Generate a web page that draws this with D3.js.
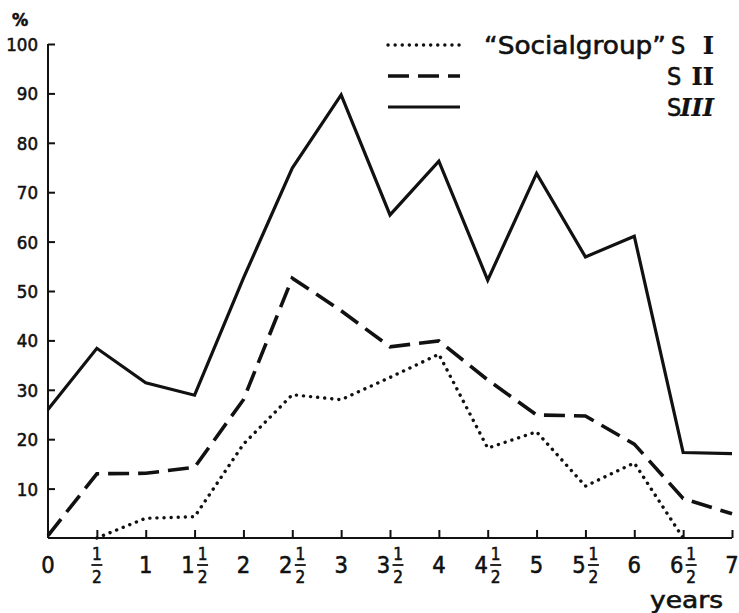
<!DOCTYPE html>
<html>
<head>
<meta charset="utf-8">
<script src="https://cdn.jsdelivr.net/npm/d3@7"></script>
<style>
  html, body { margin: 0; padding: 0; background: #fff; }
  svg { display: block; }
  text { fill: #111; stroke: #111; stroke-width: 0.55px; font-family: "DejaVu Sans Condensed", "DejaVu Sans", sans-serif; }
</style>
</head>
<body>
<script>
// Age in years at each observation
const years = [0, 0.5, 1, 1.5, 2, 2.5, 3, 3.5, 4, 4.5, 5, 5.5, 6, 6.5, 7];

// Percentages per social group (null = no observation)
const sI   = [null, 0, 4, 4.3, 19, 29, 28, 32.5, 37.2, 18.2, 21.5, 10.5, 15.2, 0, null];
const sII  = [0.5, 13, 13.1, 14.3, 28, 52.6, 46, 38.7, 39.9, 32, 24.9, 24.7, 19, 8, 4.9];
const sIII = [26, 38.4, 31.4, 28.9, 52.6, 74.9, 89.7, 65.4, 76.3, 52.2, 73.8, 56.9, 61.1, 17.3, 17.1];

// Axis ticks
const xTicks = years;
const yTicks = [10, 20, 30, 40, 50, 60, 70, 80, 90, 100];

// Legend entries
const groupNames = ["I", "II", "III"];
const groupStyles = [
  { dash: "0.1,7", width: 3.4, cap: "round" },
  { dash: "21,9", width: 3.6, cap: "butt" },
  { dash: null, width: 3.2, cap: "butt" }
];

const W = 739, H = 613;
const svg = d3.select("body").append("svg").attr("width", W).attr("height", H);

const x = d3.scaleLinear().domain([0, 7]).range([48, 732]);
const y = d3.scaleLinear().domain([0, 100]).range([538, 44]);

// Y axis: ticks point inward
const yAxis = svg.append("g").attr("transform", `translate(${x(0)},0)`)
  .call(d3.axisRight(y).tickValues(yTicks).tickSize(7).tickFormat(""));
yAxis.select(".domain").attr("d", `M0,${y(0)}V${y(100)}`).attr("stroke", "#111").attr("stroke-width", 2);
yAxis.selectAll(".tick line").attr("stroke", "#111").attr("stroke-width", 2);

svg.append("g").selectAll("text").data(yTicks).join("text")
  .attr("x", 38).attr("y", d => y(d) + 7)
  .attr("text-anchor", "end").attr("font-size", 18.5)
  .text(d => d);

svg.append("text").attr("x", 12).attr("y", 26).attr("font-size", 18).attr("font-weight", "bold").text("%");

// X axis: ticks point upward
const xAxis = svg.append("g").attr("transform", `translate(0,${y(0)})`)
  .call(d3.axisTop(x).tickValues(xTicks.filter(d => d > 0)).tickSize(8).tickFormat(""));
xAxis.select(".domain").attr("d", `M${x(0)},0H${x(7)}`).attr("stroke", "#111").attr("stroke-width", 2);
xAxis.selectAll(".tick line").attr("stroke", "#111").attr("stroke-width", 2);

// X tick labels with stacked half fractions
const xl = svg.append("g").selectAll("g").data(xTicks).join("g")
  .attr("transform", d => `translate(${x(d)},0)`);
xl.each(function (d) {
  const g = d3.select(this);
  const whole = Math.floor(d);
  const half = d % 1 !== 0;
  const wholeW = 14;
  const fracW = 11;
  if (!half) {
    g.append("text").attr("x", 0).attr("y", 573).attr("text-anchor", "middle")
      .attr("font-size", 23.5).text(whole);
    return;
  }
  let fx = 0;
  if (whole > 0) {
    const total = wholeW + 2 + fracW;
    g.append("text").attr("x", -total / 2 + wholeW / 2).attr("y", 573).attr("text-anchor", "middle")
      .attr("font-size", 23.5).text(whole);
    fx = -total / 2 + wholeW + 2 + fracW / 2;
  }
  g.append("text").attr("x", fx).attr("y", 560).attr("text-anchor", "middle").attr("font-size", 17).text("1");
  g.append("line").attr("x1", fx - 5.5).attr("x2", fx + 5.5).attr("y1", 565).attr("y2", 565)
    .attr("stroke", "#111").attr("stroke-width", 1.8);
  g.append("text").attr("x", fx).attr("y", 583).attr("text-anchor", "middle").attr("font-size", 17).text("2");
});

svg.append("text").attr("x", 650).attr("y", 608).attr("font-size", 23)
  .attr("textLength", 73).attr("lengthAdjust", "spacingAndGlyphs").text("years");

// Series lines
const series = [sI, sII, sIII];
const line = d3.line()
  .defined(d => d[1] !== null)
  .x(d => x(d[0])).y(d => y(d[1]));

series.forEach((vals, i) => {
  const st = groupStyles[i];
  svg.append("path")
    .datum(years.map((yr, j) => [yr, vals[j]]))
    .attr("d", line)
    .attr("fill", "none").attr("stroke", "#111")
    .attr("stroke-width", st.width)
    .attr("stroke-linecap", st.cap)
    .attr("stroke-linejoin", "miter")
    .attr("stroke-dasharray", st.dash);
});

// Legend
const legY = [45, 76, 107];
groupNames.forEach((name, i) => {
  const st = groupStyles[i];
  svg.append("line").attr("x1", 388).attr("x2", 460).attr("y1", legY[i]).attr("y2", legY[i])
    .attr("stroke", "#111").attr("stroke-width", st.width)
    .attr("stroke-linecap", st.cap).attr("stroke-dasharray", st.dash);
  if (i === 0) {
    svg.append("text").attr("x", 484).attr("y", legY[i] + 9).attr("font-size", 25)
      .attr("textLength", 182).attr("lengthAdjust", "spacingAndGlyphs").text("“Socialgroup”");
  }
  svg.append("text").attr("x", i === 0 ? 671 : 667).attr("y", legY[i] + 9).attr("font-size", 25).text("S");
  svg.append("text").attr("x", 714).attr("y", legY[i] + 9).attr("text-anchor", "end")
    .attr("font-size", 24).attr("font-weight", "bold")
    .style("font-family", "'DejaVu Serif', 'Liberation Serif', serif")
    .style("font-style", i === 2 ? "italic" : "normal")
    .style("stroke-width", "0.2px")
    .text(name);
});
</script>
</body>
</html>
